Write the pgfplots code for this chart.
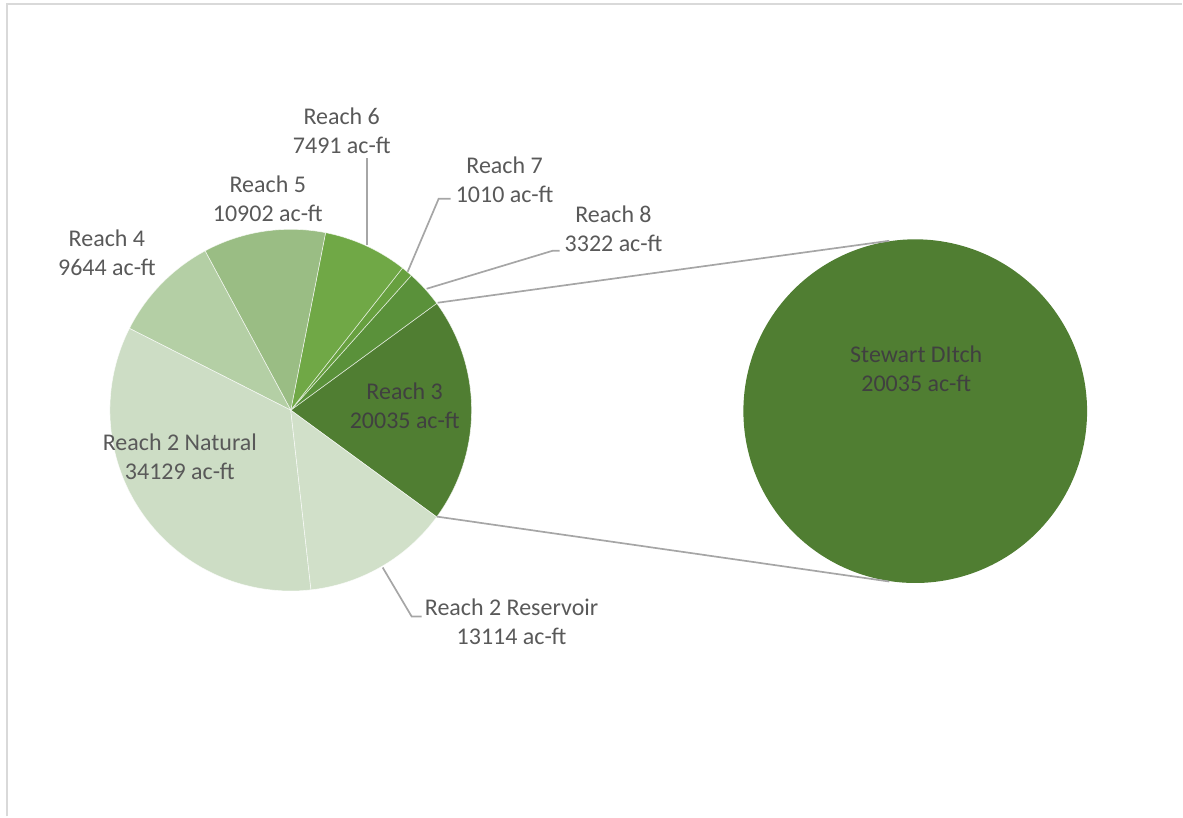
\documentclass[border=0pt]{standalone}
\usepackage{fontspec}
\setmainfont{Carlito}
\usepackage{pgfplots}
\pgfplotsset{compat=1.18}

% slice colours, Excel green accent 6 shades
\definecolor{rtwon}{HTML}{CDDDC5}
\definecolor{rtwor}{HTML}{D1E0C9}
\definecolor{rfour}{HTML}{B4CFA5}
\definecolor{rfive}{HTML}{9ABD84}
\definecolor{rsix}{HTML}{70A846}
\definecolor{rseven}{HTML}{67A03F}
\definecolor{reight}{HTML}{5A913A}
\definecolor{rthree}{HTML}{507E32}
\definecolor{lbl}{HTML}{595959}
\definecolor{lbldark}{HTML}{404040}
\definecolor{leader}{HTML}{A6A6A6}
\definecolor{frame}{HTML}{D9D9D9}

% values in ac-ft, in drawing order (counter-clockwise from Reach 3)
\def\vthree{20035}
\def\veight{3322}
\def\vseven{1010}
\def\vsix{7491}
\def\vfive{10902}
\def\vfour{9644}
\def\vtwon{34129}
\def\vtwor{13114}
\edef\total{\fpeval{\vthree+\veight+\vseven+\vsix+\vfive+\vfour+\vtwon+\vtwor}}

% cumulative angles
\edef\aA{-36.2}
\edef\aB{\fpeval{\aA+360*\vthree/\total}}
\edef\aC{\fpeval{\aB+360*\veight/\total}}
\edef\aD{\fpeval{\aC+360*\vseven/\total}}
\edef\aE{\fpeval{\aD+360*\vsix/\total}}
\edef\aF{\fpeval{\aE+360*\vfive/\total}}
\edef\aG{\fpeval{\aF+360*\vfour/\total}}
\edef\aH{\fpeval{\aG+360*\vtwon/\total}}
\edef\aI{\fpeval{\aH+360*\vtwor/\total}}

\def\cx{291}
\def\cy{410.5}
\def\rr{181}

\begin{document}
\begin{tikzpicture}
\begin{axis}[
    scale only axis, width=1183pt, height=817pt,
    xmin=0, xmax=1183, ymin=0, ymax=817, y dir=reverse,
    hide axis, clip=false,
    slice/.style={draw=white, draw opacity=0.7, line width=0.6pt, samples=60},
    leaderline/.style={draw=leader, line width=1.7pt, mark=none},
  ]
  % keep the whole chart area in the bounding box
  \addplot[draw=none] coordinates {(0,0) (1183,817)};
  % chart frame
  \addplot[draw=frame, line width=2pt] coordinates {(7.5,817) (7.5,4.5) (1183,4.5)};

  % pie slices
  \addplot[slice, fill=rthree, domain=\aA:\aB] ({\cx+\rr*cos(x)},{\cy-\rr*sin(x)}) -- (\cx,\cy) -- cycle;
  \addplot[slice, fill=reight, domain=\aB:\aC] ({\cx+\rr*cos(x)},{\cy-\rr*sin(x)}) -- (\cx,\cy) -- cycle;
  \addplot[slice, fill=rseven, domain=\aC:\aD, samples=10] ({\cx+\rr*cos(x)},{\cy-\rr*sin(x)}) -- (\cx,\cy) -- cycle;
  \addplot[slice, fill=rsix, domain=\aD:\aE] ({\cx+\rr*cos(x)},{\cy-\rr*sin(x)}) -- (\cx,\cy) -- cycle;
  \addplot[slice, fill=rfive, domain=\aE:\aF] ({\cx+\rr*cos(x)},{\cy-\rr*sin(x)}) -- (\cx,\cy) -- cycle;
  \addplot[slice, fill=rfour, domain=\aF:\aG] ({\cx+\rr*cos(x)},{\cy-\rr*sin(x)}) -- (\cx,\cy) -- cycle;
  \addplot[slice, fill=rtwon, domain=\aG:\aH, samples=120] ({\cx+\rr*cos(x)},{\cy-\rr*sin(x)}) -- (\cx,\cy) -- cycle;
  \addplot[slice, fill=rtwor, domain=\aH:\aI] ({\cx+\rr*cos(x)},{\cy-\rr*sin(x)}) -- (\cx,\cy) -- cycle;

  % secondary pie: Stewart Ditch (= all of Reach 3)
  \addplot[fill=rthree, draw=none, domain=0:360, samples=200] ({916+172*cos(x)},{411.5-172*sin(x)}) -- cycle;

  % connectors and leader lines
  \addplot[leaderline] coordinates {(438,303) (890,241)};
  \addplot[leaderline] coordinates {(437,517) (890,582)};
  \addplot[leaderline] coordinates {(367,245) (367,158)};
  \addplot[leaderline] coordinates {(408,272) (439,199) (451,199)};
  \addplot[leaderline] coordinates {(427,289) (553,251) (560,251)};
  \addplot[leaderline] coordinates {(383,568) (412,617) (422,617)};

  % data labels
  \begin{scope}[every node/.style={align=center, text=lbl, font=\fontsize{24}{29}\selectfont}]
    \node at (342,130.5) {Reach 6\\7491 ac-ft};
    \node at (505,179.5) {Reach 7\\1010 ac-ft};
    \node at (614,229) {Reach 8\\3322 ac-ft};
    \node at (268,198.5) {Reach 5\\10902 ac-ft};
    \node at (107,252.5) {Reach 4\\9644 ac-ft};
    \node at (180,457.5) {Reach 2 Natural\\34129 ac-ft};
    \node[text=lbldark] at (405,406.5) {Reach 3\\20035 ac-ft};
    \node at (512,622.5) {Reach 2 Reservoir\\13114 ac-ft};
    \node[text=lbldark] at (917,369.5) {Stewart DItch\\20035 ac-ft};
  \end{scope}
\end{axis}
\end{tikzpicture}
\end{document}
